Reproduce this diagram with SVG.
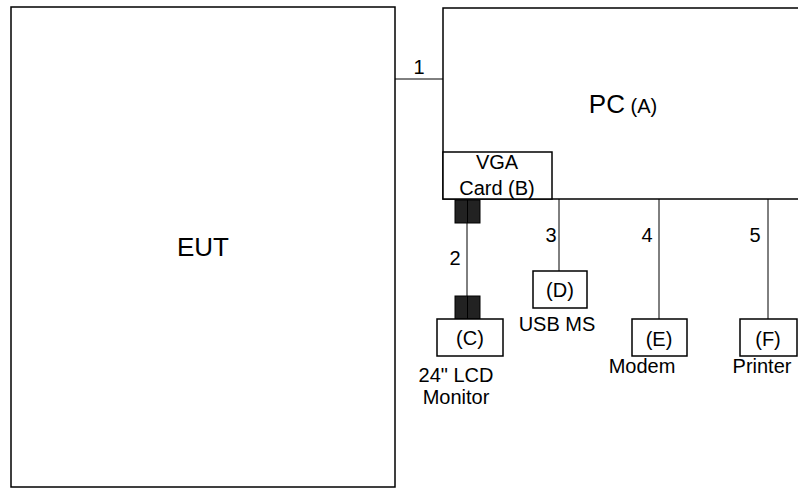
<svg xmlns="http://www.w3.org/2000/svg" width="798" height="488" viewBox="0 0 798 488">
<style>
.box{fill:#fff;stroke:#000;stroke-width:1.5}
.ln{stroke:#000;stroke-width:1;fill:none}
.plug{fill:#222;stroke:#000;stroke-width:1}
text{font-family:"Liberation Sans",Arial,sans-serif;fill:#000;font-size:20px}
.c{text-anchor:middle}
.big{font-size:26px}
</style>
<rect width="798" height="488" fill="#fff"/>
<g id="connectors">
<line class="ln" x1="395" y1="79" x2="443" y2="79"/>
<text x="419" y="74" class="c">1</text>
<line class="ln" x1="467" y1="223" x2="467" y2="296"/>
<text x="455" y="265" class="c">2</text>
<line class="ln" x1="559" y1="199" x2="559" y2="271"/>
<text x="551" y="242" class="c">3</text>
<line class="ln" x1="659" y1="199" x2="659" y2="319"/>
<text x="647" y="242" class="c">4</text>
<line class="ln" x1="768" y1="199" x2="768" y2="319"/>
<text x="755" y="242" class="c">5</text>
</g>
<g id="eut">
<rect class="box" x="11" y="7" width="384" height="480"/>
<text x="203" y="256" class="c big">EUT</text>
</g>
<g id="pc">
<rect class="box" x="443" y="8" width="360" height="191"/>
<text x="623" y="113" class="c"><tspan style="font-size:26px">PC</tspan><tspan style="font-size:20px"> (A)</tspan></text>
</g>
<g id="vga">
<rect class="box" x="443" y="152" width="109" height="47"/>
<text x="497" y="169" class="c">VGA</text>
<text x="497" y="195" class="c">Card (B)</text>
</g>
<g id="plug-top">
<rect class="plug" x="455" y="200" width="25" height="23"/>
<line x1="467.5" y1="200" x2="467.5" y2="223" stroke="#000" stroke-width="1"/>
</g>
<g id="plug-bottom">
<rect class="plug" x="455" y="296" width="25" height="23"/>
<line x1="467.5" y1="296" x2="467.5" y2="319" stroke="#000" stroke-width="1"/>
</g>
<g id="monitor">
<rect class="box" x="437" y="319" width="66" height="37"/>
<text x="470" y="345" class="c">(C)</text>
<text x="456" y="382" class="c">24" LCD</text>
<text x="456" y="404" class="c">Monitor</text>
</g>
<g id="usbms">
<rect class="box" x="533" y="271" width="54" height="37"/>
<text x="560" y="297" class="c">(D)</text>
<text x="557" y="331" class="c">USB MS</text>
</g>
<g id="modem">
<rect class="box" x="632" y="319" width="55" height="37"/>
<text x="659" y="346" class="c">(E)</text>
<text x="642" y="373" class="c">Modem</text>
</g>
<g id="printer">
<rect class="box" x="740" y="319" width="57" height="37"/>
<text x="768" y="346" class="c">(F)</text>
<text x="762" y="373" class="c">Printer</text>
</g>
</svg>
